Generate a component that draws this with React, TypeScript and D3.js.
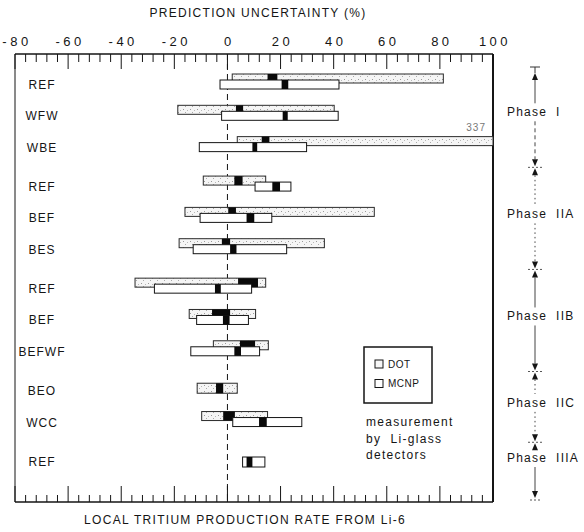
import React from "react";
import * as d3 from "d3";

// Benchmark rows (top to bottom) and the phase each belongs to
const rowLabels = ["REF", "WFW", "WBE", "REF", "BEF", "BES", "REF", "BEF", "BEFWF", "BEO", "WCC", "REF"];
const rowPhase = [0, 0, 0, 1, 1, 1, 2, 2, 2, 3, 3, 4];
const phaseNames = ["Phase I", "Phase IIA", "Phase IIB", "Phase IIC", "Phase IIIA"];
// connector style above / below each phase name
const phaseLineStyles: [string, string][] = [
  ["solid", "dashed"],
  ["dotted", "dotted"],
  ["solid", "solid"],
  ["dotted", "dotted"],
  ["solid", "solid"],
];

type Span = [number, number] | null;

// DOT: uncertainty band and C/E marker (%)
const dotRange: Span[] = [
  [1.8, 81.3], [-18.7, 40.2], [3.7, 337], [-9.1, 14.4], [-16, 55.3], [-18.2, 36.5],
  [-34.8, 14.4], [-14.4, 10.6], [-5.3, 15.4], [-11.4, 3.7], [-9.7, 15.1], null,
];
const dotMark: Span[] = [
  [15.1, 18.8], [3.2, 5.9], [12.9, 15.8], [2.6, 5.7], [0.3, 3.2], [-2.1, 1.0],
  [4.0, 11.5], [-5.8, 1.0], [4.7, 10.4], [-4.3, -1.6], [-1.6, 2.8], null,
];
// MCNP: uncertainty band and C/E marker (%)
const mcnpRange: Span[] = [
  [-2.8, 42], [-2.2, 41.7], [-10.6, 29.8], [10.4, 23.9], [-10.3, 16.7], [-12.9, 22.3],
  [-27.5, 9.1], [-11.6, 7.9], [-13.8, 12.1], null, [2.0, 28], [5.7, 14.1],
];
const mcnpMark: Span[] = [
  [20.4, 22.9], [20.8, 22.7], [9.4, 11.2], [16.9, 19.8], [7.2, 10.1], [1.0, 3.4],
  [-4.7, -2.5], [-1.7, 0.8], [2.6, 5.1], null, [11.9, 14.8], [7.2, 9.4],
];

const majorTicks = [-80, -60, -40, -20, 0, 20, 40, 60, 80, 100];
const minorTicks = d3.range(-80, 101, 4);

const title = "PREDICTION UNCERTAINTY (%)";
const xTitle = "LOCAL TRITIUM PRODUCTION RATE FROM Li-6";
const legendItems = ["DOT", "MCNP"];
const noteLines = ["measurement", "by  Li-glass", "detectors"];

const W = 584;
const H = 532;
const left = 15;
const right = 493;
const top = 54;
const bottom = 502;
const FONT = "'Liberation Sans', Arial, Helvetica, sans-serif";
const INK = "#151515";

export default function App() {
  const x = d3.scaleLinear().domain([-80, 100]).range([left, right]);
  const slot = (i: number) => i + 0.26 * rowPhase[i];
  const y = d3.scaleLinear().domain([0, slot(rowLabels.length - 1)]).range([85, 462]);
  const cy = (i: number) => y(slot(i));
  const cx = (v: number) => x(Math.max(-80, Math.min(100, v)));

  const barH = 9;

  // phase boundaries along the right-hand bracket
  const nPh = phaseNames.length;
  const bounds: number[] = [];
  bounds.push(cy(0) - 18);
  for (let p = 1; p < nPh; p++) {
    const lastPrev = rowPhase.lastIndexOf(p - 1);
    const first = rowPhase.indexOf(p);
    bounds.push((cy(lastPrev) + cy(first)) / 2);
  }
  bounds.push(cy(rowLabels.length - 1) + 38);
  const ax = 535;
  const dashFor = (s: string) => (s === "dashed" ? "4,3" : s === "dotted" ? "1.5,3" : undefined);

  const renderBar = (
    key: string,
    span: Span,
    mark: Span,
    y0: number,
    h: number,
    fill: string,
    stroke: string
  ) => {
    if (!span) return null;
    const x0 = cx(span[0]);
    const x1 = cx(span[1]);
    return (
      <g key={key}>
        <rect x={x0} y={y0} width={x1 - x0} height={h} fill={fill} stroke={stroke} strokeWidth={1} />
        {mark && (
          <rect x={cx(mark[0])} y={y0} width={cx(mark[1]) - cx(mark[0])} height={h} fill="#0a0a0a" />
        )}
      </g>
    );
  };

  return (
    <svg
      width={W}
      height={H}
      viewBox={`0 0 ${W} ${H}`}
      style={{ position: "absolute", left: 0, top: 0, background: "#fff" }}
      fontFamily={FONT}
    >
      <defs>
        <pattern id="stipple" width="7" height="6" patternUnits="userSpaceOnUse">
          <rect width="7" height="6" fill="#f5f5f5" />
          <rect x="1" y="1" width="1" height="1" fill="#9a9a9a" />
          <rect x="5" y="2" width="1" height="1" fill="#b8b8b8" />
          <rect x="3" y="4" width="1" height="1" fill="#aaa" />
        </pattern>
      </defs>

      {/* titles */}
      <text x={258} y={13} textAnchor="middle" dominantBaseline="central" fontSize={12} letterSpacing={1.3} fill={INK}>
        {title}
      </text>
      <text x={245} y={520} textAnchor="middle" dominantBaseline="central" fontSize={12} letterSpacing={1.3} fill={INK}>
        {xTitle}
      </text>

      {/* top tick labels */}
      {majorTicks.map((t) => (
        <text
          key={"tl" + t}
          x={x(t) + 2}
          y={41}
          textAnchor="middle"
          dominantBaseline="central"
          fontSize={13}
          letterSpacing={3.5}
          fill={INK}
        >
          {t < 0 ? "-" + Math.abs(t) : String(t)}
        </text>
      ))}

      {/* frame */}
      <line x1={left} x2={right} y1={top} y2={top} stroke={INK} strokeWidth={1.3} />
      <line x1={left} x2={right} y1={bottom} y2={bottom} stroke={INK} strokeWidth={1.5} />
      <line x1={left} x2={left} y1={top} y2={bottom} stroke={INK} strokeWidth={1} />
      <line x1={right} x2={right} y1={top} y2={bottom} stroke={INK} strokeWidth={2} />

      {/* ticks */}
      {minorTicks.map((t) => {
        const major = majorTicks.includes(t);
        return (
          <g key={"tk" + t}>
            <line x1={x(t)} x2={x(t)} y1={top} y2={top + (major ? 15 : 8)} stroke={INK} strokeWidth={1} />
            <line x1={x(t)} x2={x(t)} y1={bottom} y2={bottom - (major ? 16 : 7)} stroke={INK} strokeWidth={1} />
          </g>
        );
      })}

      {/* zero reference */}
      <line x1={x(0)} x2={x(0)} y1={top} y2={bottom} stroke={INK} strokeWidth={1} strokeDasharray="6,4" />

      {/* rows */}
      {rowLabels.map((lab, i) => {
        const c = cy(i);
        const both = !!dotRange[i] && !!mcnpRange[i];
        const dotY = both ? c - 11 : c - 8;
        const mcY = c - 5;
        const h = both ? barH : 10;
        const over = dotRange[i] && dotRange[i]![1] > 100 ? dotRange[i]![1] : null;
        return (
          <g key={"row" + i}>
            <text x={42} y={c} textAnchor="middle" dominantBaseline="central" fontSize={12} letterSpacing={1} fill={INK}>
              {lab}
            </text>
            {renderBar("d" + i, dotRange[i], dotMark[i], dotY, h, "url(#stipple)", "#2a2a2a")}
            {renderBar("m" + i, mcnpRange[i], mcnpMark[i], mcY, h, "#ffffff", INK)}
            {over !== null && (
              <text x={x(100) - 7} y={c - 20} textAnchor="end" dominantBaseline="central" fontSize={10} letterSpacing={1} fill="#777">
                {String(over)}
              </text>
            )}
          </g>
        );
      })}

      {/* legend */}
      <rect x={364} y={347} width={68} height={56} fill="#fff" stroke={INK} strokeWidth={1.5} />
      {legendItems.map((name, k) => (
        <g key={name}>
          <rect
            x={375}
            y={360 + k * 19.5}
            width={8}
            height={8}
            fill={k === 0 ? "#f6f6f6" : "#fff"}
            stroke={INK}
            strokeWidth={1}
          />
          <text x={388} y={364 + k * 19.5} dominantBaseline="central" fontSize={10} letterSpacing={0.5} fill={INK}>
            {name}
          </text>
        </g>
      ))}
      {noteLines.map((t, k) => (
        <text
          key={"n" + k}
          x={366}
          y={422 + k * 16.7}
          dominantBaseline="central"
          fontSize={12}
          letterSpacing={1.3}
          fill={INK}
          style={{ whiteSpace: "pre" }}
        >
          {t}
        </text>
      ))}

      {/* phase brackets */}
      {phaseNames.map((name, p) => {
        const T = bounds[p];
        const B = bounds[p + 1];
        const rows = rowPhase.map((ph, i) => (ph === p ? cy(i) : NaN)).filter((v) => !isNaN(v));
        const L = d3.mean(rows)! - 4;
        const upTip = p === 0 ? T + 6 : T + 1;
        const dnTip = p === nPh - 1 ? B - 2 : B - 1;
        const [sa, sb] = phaseLineStyles[p];
        return (
          <g key={name}>
            {p === 0 && (
              <>
                <line x1={ax - 5} x2={ax + 5} y1={T} y2={T} stroke="#333" strokeWidth={1} />
                <line x1={ax} x2={ax} y1={T} y2={upTip} stroke="#333" strokeWidth={1} />
              </>
            )}
            {p > 0 && (
              <line x1={ax - 7} x2={ax + 7} y1={T} y2={T} stroke="#555" strokeWidth={1} strokeDasharray="2,2" />
            )}
            {p === nPh - 1 && (
              <line x1={ax - 5} x2={ax + 5} y1={B} y2={B} stroke="#555" strokeWidth={1} strokeDasharray="2,2" />
            )}
            <path d={`M${ax},${upTip}L${ax - 3},${upTip + 7}L${ax + 3},${upTip + 7}Z`} fill={INK} />
            <path d={`M${ax},${dnTip}L${ax - 3},${dnTip - 7}L${ax + 3},${dnTip - 7}Z`} fill={INK} />
            {L - 9 > upTip + 8 && (
              <line x1={ax} x2={ax} y1={upTip + 7} y2={L - 9} stroke="#444" strokeWidth={1} strokeDasharray={dashFor(sa)} />
            )}
            {dnTip - 7 > L + 9 && (
              <line x1={ax} x2={ax} y1={L + 9} y2={dnTip - 7} stroke="#444" strokeWidth={1} strokeDasharray={dashFor(sb)} />
            )}
            <text x={507} y={L} dominantBaseline="central" fontSize={12} letterSpacing={1.2} fill={INK} style={{ whiteSpace: "pre" }}>
              {name.replace(" ", "  ")}
            </text>
          </g>
        );
      })}
    </svg>
  );
}
